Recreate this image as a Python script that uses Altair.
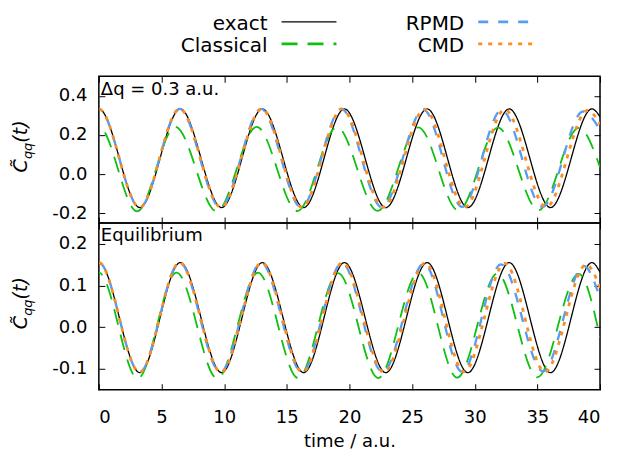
import altair as alt
import pandas as pd

# ---------------- data ----------------
series_names = ["exact", "Classical", "RPMD", "CMD"]       # also drawing order
colors = ["#000000", "#10c010", "#5a9cf0", "#ff8c1e"]
dashes = [[1, 0], [16, 10], [10, 10], [4, 6]]
widths = [1.3, 2.8, 2.8, 2.8]
legend_col = [0, 0, 1, 1]
legend_row = [0, 1, 0, 1]

x_ticks = [0, 5, 10, 15, 20, 25, 30, 35, 40]
top_y_ticks = [-0.2, 0.0, 0.2, 0.4]
bot_y_ticks = [-0.1, 0.0, 0.1, 0.2]

top_label = "Δq = 0.3 a.u."
bot_label = "Equilibrium"

# ---- top panel (Δq = 0.3 a.u.) : extrema (time, value) ----
top_exact_t = [-3.27, 0, 3.27, 6.5, 9.8, 13.05, 16.35, 19.6, 22.9, 26.2, 29.45, 32.75, 36.05, 39.35, 40]
top_exact_v = [-0.171, 0.333, -0.171, 0.333, -0.171, 0.333, -0.171, 0.333, -0.171, 0.333, -0.171, 0.333, -0.171, 0.333, 0.293]

top_rpmd_t = [-3.25, 0, 3.25, 6.45, 9.7, 12.95, 16.15, 19.35, 22.6, 25.9, 29.0, 32.15, 35.4, 38.65, 40]
top_rpmd_v = [-0.17, 0.333, -0.17, 0.333, -0.17, 0.333, -0.17, 0.333, -0.17, 0.33, -0.168, 0.328, -0.168, 0.32, 0.225]

top_cmd_t = [-3.25, 0, 3.25, 6.45, 9.75, 13.0, 16.2, 19.4, 22.7, 26.0, 29.2, 32.4, 35.7, 39.0, 40]
top_cmd_v = [-0.17, 0.333, -0.17, 0.333, -0.17, 0.333, -0.17, 0.333, -0.17, 0.332, -0.169, 0.33, -0.168, 0.325, 0.255]

top_cl_t = [-3.05, 0, 3.05, 6.1, 9.4, 12.6, 15.85, 19.0, 22.25, 25.5, 28.7, 31.85, 35.1, 38.3, 40]
top_cl_v = [-0.19, 0.242, -0.19, 0.242, -0.19, 0.241, -0.189, 0.24, -0.188, 0.239, -0.186, 0.237, -0.185, 0.236, 0.035]

# ---- bottom panel (Equilibrium) ----
bot_exact_t = [-3.27, 0, 3.27, 6.5, 9.8, 13.05, 16.35, 19.6, 22.9, 26.2, 29.45, 32.75, 36.05, 39.35, 40]
bot_exact_v = [-0.109, 0.155, -0.109, 0.155, -0.109, 0.155, -0.109, 0.155, -0.109, 0.155, -0.109, 0.155, -0.109, 0.155, 0.132]

bot_rpmd_t = [-3.25, 0, 3.25, 6.45, 9.7, 12.95, 16.2, 19.4, 22.65, 25.95, 29.0, 32.1, 35.45, 38.7, 40]
bot_rpmd_v = [-0.108, 0.155, -0.108, 0.155, -0.108, 0.155, -0.108, 0.154, -0.108, 0.153, -0.107, 0.151, -0.106, 0.147, 0.07]

bot_cmd_t = [-3.25, 0, 3.25, 6.45, 9.75, 13.0, 16.25, 19.45, 22.75, 26.05, 29.15, 32.4, 35.6, 38.9, 40]
bot_cmd_v = [-0.108, 0.155, -0.108, 0.155, -0.108, 0.155, -0.108, 0.155, -0.108, 0.154, -0.107, 0.153, -0.107, 0.15, 0.095]

bot_cl_t = [-3.1, 0, 3.1, 6.2, 9.45, 12.7, 15.9, 19.1, 22.3, 25.5, 28.6, 31.8, 35.0, 38.3, 40]
bot_cl_v = [-0.123, 0.131, -0.123, 0.131, -0.123, 0.131, -0.122, 0.13, -0.122, 0.13, -0.121, 0.129, -0.12, 0.128, -0.024]

FONT = "DejaVu Sans"
W = 502
H_TOP = 147
H_BOT = 167


def make_df(parts):
    rows = []
    for name, ts, vs in parts:
        for t, v in zip(ts, vs):
            rows.append({"series": name, "t": t, "v": v})
    return pd.DataFrame(rows)


top_df = make_df([("exact", top_exact_t, top_exact_v), ("Classical", top_cl_t, top_cl_v),
                  ("RPMD", top_rpmd_t, top_rpmd_v), ("CMD", top_cmd_t, top_cmd_v)])
bot_df = make_df([("exact", bot_exact_t, bot_exact_v), ("Classical", bot_cl_t, bot_cl_v),
                  ("RPMD", bot_rpmd_t, bot_rpmd_v), ("CMD", bot_cmd_t, bot_cmd_v)])

xs = alt.Scale(domain=[0, 40], nice=False, zero=False)
col_scale = alt.Scale(domain=series_names, range=colors)
dash_scale = alt.Scale(domain=series_names, range=dashes)
width_scale = alt.Scale(domain=series_names, range=widths)

minus_expr = "datum.value < 0 ? '-' + format(-datum.value, '.1f') : format(datum.value, '.1f')"

# legend layout (pixels relative to the top panel's plot area)
LEG_TEXT_RIGHT = [169, 366]
LEG_SYM_LEFT = [183, 380]
LEG_SYM_LEN = 55
LEG_ROW_Y = [-54.5, -32.5]


def legend_layers():
    out = []
    for name, c, dsh, w, col, row in zip(series_names, colors, dashes, widths, legend_col, legend_row):
        d = pd.DataFrame({"name": [name]})
        out.append(alt.Chart(d).mark_text(align="right", baseline="alphabetic", font=FONT,
                                          fontSize=20, color="black").encode(
            x=alt.value(LEG_TEXT_RIGHT[col]), y=alt.value(LEG_ROW_Y[row] + 8), text="name:N"))
        out.append(alt.Chart(d).mark_rule(color=c, strokeDash=dsh, strokeWidth=w).encode(
            x=alt.value(LEG_SYM_LEFT[col]), x2=alt.value(LEG_SYM_LEFT[col] + LEG_SYM_LEN),
            y=alt.value(LEG_ROW_Y[row])))
    return out


def panel(df, ydomain, yticks, label, label_y, height, show_x, with_legend):
    ys = alt.Scale(domain=ydomain, nice=False, zero=False)
    layers = []
    for name in series_names:
        layers.append(
            alt.Chart(df).transform_filter(alt.datum.series == name)
            .mark_line(clip=True, interpolate="monotone")
            .encode(
                x=alt.X("t:Q", scale=xs, axis=None),
                y=alt.Y("v:Q", scale=ys, axis=None),
                color=alt.Color("series:N", scale=col_scale, legend=None),
                strokeDash=alt.StrokeDash("series:N", scale=dash_scale, legend=None),
                strokeWidth=alt.StrokeWidth("series:N", scale=width_scale, legend=None),
            )
        )
    xaxis_kw = dict(values=x_ticks, offset=-6, tickSize=6, domain=False, grid=False,
                    labelPadding=19, tickColor="black", minExtent=0)
    yaxis_kw = dict(values=yticks, offset=-6, tickSize=6, domain=False, grid=False,
                    labelPadding=12, tickColor="black")
    if show_x:
        xb = alt.Axis(orient="bottom", title="time / a.u.", titlePadding=6, **xaxis_kw)
    else:
        xb = alt.Axis(orient="bottom", title=None, labels=False, **xaxis_kw)
    axis_bl = alt.Chart(df).mark_line(opacity=0, clip=True).encode(
        x=alt.X("t:Q", scale=xs, axis=xb),
        y=alt.Y("v:Q", scale=ys, axis=alt.Axis(orient="left", title=None, labelExpr=minus_expr,
                                               **yaxis_kw)),
    )
    axis_tr = alt.Chart(df).mark_line(opacity=0, clip=True).encode(
        x=alt.X("t:Q", scale=xs, axis=alt.Axis(orient="top", title=None, labels=False, **xaxis_kw)),
        y=alt.Y("v:Q", scale=ys, axis=alt.Axis(orient="right", title=None, labels=False, **yaxis_kw)),
    )
    lab_df = pd.DataFrame({"label": [label]})
    lab = alt.Chart(lab_df).mark_text(align="left", baseline="alphabetic", font=FONT,
                                      fontSize=18, color="black").encode(
        x=alt.value(2), y=alt.value(label_y), text="label:N")
    yc = height / 2
    ttl_df = pd.DataFrame({"a": ["C\u0303"], "b": ["qq"], "c": ["(t)"]})
    tx = -72
    t1 = alt.Chart(ttl_df).mark_text(align="left", baseline="alphabetic", angle=270, font=FONT,
                                     fontStyle="italic", fontSize=19, color="black").encode(
        x=alt.value(tx), y=alt.value(yc + 23), text="a:N")
    t2 = alt.Chart(ttl_df).mark_text(align="left", baseline="alphabetic", angle=270, font=FONT,
                                     fontStyle="italic", fontSize=13, color="black").encode(
        x=alt.value(tx + 5), y=alt.value(yc + 23 - 13.5), text="b:N")
    t3 = alt.Chart(ttl_df).mark_text(align="left", baseline="alphabetic", angle=270, font=FONT,
                                     fontStyle="italic", fontSize=19, color="black").encode(
        x=alt.value(tx), y=alt.value(yc + 23 - 13.5 - 16.5), text="c:N")
    extra = legend_layers() if with_legend else []
    return alt.layer(*layers, axis_bl, axis_tr, lab, t1, t2, t3, *extra).resolve_axis(
        x="independent", y="independent").properties(width=W, height=height)


top = panel(top_df, [-0.25, 0.5], top_y_ticks, top_label, 19, H_TOP, False, True)
bot = panel(bot_df, [-0.15, 0.25], bot_y_ticks, bot_label, 18, H_BOT, True, False)

chart = alt.vconcat(top, bot, spacing=0, bounds="flush").resolve_scale(
    x="independent", y="independent"
).properties(padding={"left": 3, "top": 4, "right": 8, "bottom": 4}).configure_view(
    stroke="black", strokeWidth=1.5
).configure_axis(
    labelFont=FONT, labelFontSize=18, labelColor="black", titleFont=FONT, titleFontSize=18,
    titleColor="black", titleFontWeight="normal"
)

chart.save("out.html", embed_options={"renderer": "svg", "actions": False})
